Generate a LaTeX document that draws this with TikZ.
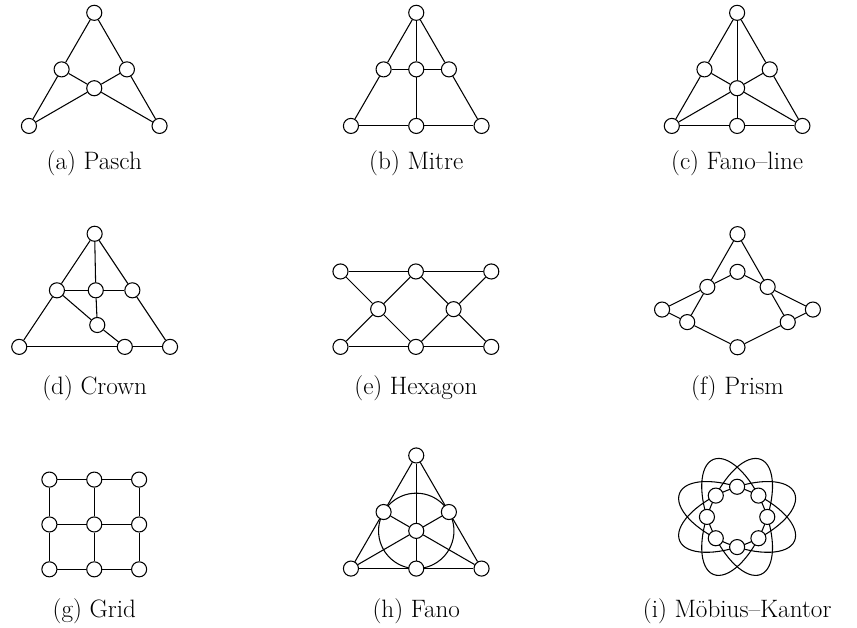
\documentclass[tikz,border=0pt]{standalone}
\usetikzlibrary{positioning}

\begin{document}
\begin{tikzpicture}[
    vtx/.style={circle, draw, fill=white, minimum size=0.4cm, inner sep=0pt, line width=0.8pt},
    edge/.style={line width=0.8pt},
    capt/.style={font=\fontsize{19}{22}\selectfont}
]
\useasboundingbox (0,0) rectangle (22.73,-16.63);

% ================= (a) PASCH =================
\begin{scope}[shift={(2.50,-3.34)}]
    \node[vtx] (aT) at (0,3) {};
    \node[vtx] (aL) at (-0.866,1.5) {};
    \node[vtx] (aR) at (0.866,1.5) {};
    \node[vtx] (aC) at (0,1) {};
    \node[vtx] (aBL) at (-1.732,0) {};
    \node[vtx] (aBR) at (1.732,0) {};

    \draw[edge] (aT) -- (aL) -- (aBL);
    \draw[edge] (aT) -- (aR) -- (aBR);
    \draw[edge] (aL) -- (aC) -- (aBR);
    \draw[edge] (aR) -- (aC) -- (aBL);

    \node[capt] (capa) at (0,-1.0) {(a) Pasch};
\end{scope}

% ================= (b) MITRE =================
\begin{scope}[shift={(11.04,-3.34)}]
    \node[vtx] (bT) at (0,3) {};
    \node[vtx] (bL) at (-0.866,1.5) {};
    \node[vtx] (bM) at (0,1.5) {};
    \node[vtx] (bR) at (0.866,1.5) {};
    \node[vtx] (bBL) at (-1.732,0) {};
    \node[vtx] (bBM) at (0,0) {};
    \node[vtx] (bBR) at (1.732,0) {};

    \draw[edge] (bT) -- (bL) -- (bBL);
    \draw[edge] (bT) -- (bR) -- (bBR);
    \draw[edge] (bT) -- (bM) -- (bBM);
    \draw[edge] (bL) -- (bM) -- (bR);
    \draw[edge] (bBL) -- (bBM) -- (bBR);

    \node[capt] (capb) at (0,-1.0) {(b) Mitre};
\end{scope}

% ================= (c) FANO-LINE =================
\begin{scope}[shift={(19.55,-3.34)}]
    \node[vtx] (cT) at (0,3) {};
    \node[vtx] (cL) at (-0.866,1.5) {};
    \node[vtx] (cR) at (0.866,1.5) {};
    \node[vtx] (cC) at (0,1) {};
    \node[vtx] (cBL) at (-1.732,0) {};
    \node[vtx] (cBM) at (0,0) {};
    \node[vtx] (cBR) at (1.732,0) {};

    \draw[edge] (cT) -- (cL) -- (cBL);
    \draw[edge] (cT) -- (cR) -- (cBR);
    \draw[edge] (cT) -- (cC) -- (cBM);
    \draw[edge] (cL) -- (cC) -- (cBR);
    \draw[edge] (cR) -- (cC) -- (cBL);
    \draw[edge] (cBL) -- (cBM) -- (cBR);

    \node[capt] (capc) at (0,-1.0) {(c) Fano–line};
\end{scope}

% ================= (d) CROWN =================
\begin{scope}[shift={(2.51,-9.20)}]
    \node[vtx] (dT) at (0,3) {};
    \node[vtx] (dL) at (-1,1.5) {};
    \node[vtx] (dM) at (0.03,1.5) {};
    \node[vtx] (dR) at (1,1.5) {};
    \node[vtx] (dK) at (0.07,0.58) {};
    \node[vtx] (dBL) at (-2,0) {};
    \node[vtx] (dBM) at (0.8,0) {};
    \node[vtx] (dBR) at (2,0) {};

    \draw[edge] (dT) -- (dL) -- (dBL);
    \draw[edge] (dT) -- (dR) -- (dBR);
    \draw[edge] (dT) -- (dM) -- (dK);
    \draw[edge] (dL) -- (dM) -- (dR);
    \draw[edge] (dL) -- (dK) -- (dBM);
    \draw[edge] (dBL) -- (dBM) -- (dBR);

    \node[capt] (capd) at (0,-1.09) {(d) Crown};
\end{scope}

% ================= (e) HEXAGON =================
\begin{scope}[shift={(11.03,-9.20)}]
    \node[vtx] (eT1) at (-2,2) {};
    \node[vtx] (eT2) at (0,2) {};
    \node[vtx] (eT3) at (2,2) {};
    \node[vtx] (eM1) at (-1,1) {};
    \node[vtx] (eM2) at (1,1) {};
    \node[vtx] (eB1) at (-2,0) {};
    \node[vtx] (eB2) at (0,0) {};
    \node[vtx] (eB3) at (2,0) {};

    \draw[edge] (eT1) -- (eT2) -- (eT3);
    \draw[edge] (eB1) -- (eB2) -- (eB3);
    \draw[edge] (eT1) -- (eM1) -- (eB2);
    \draw[edge] (eB1) -- (eM1) -- (eT2);
    \draw[edge] (eT2) -- (eM2) -- (eB3);
    \draw[edge] (eB2) -- (eM2) -- (eT3);

    \node[capt] (cape) at (0,-1.09) {(e) Hexagon};
\end{scope}

% ================= (f) PRISM =================
\begin{scope}[shift={(19.56,-9.21)}]
    \node[vtx] (fT) at (0,3) {};
    \node[vtx] (fI) at (0,2) {};
    \node[vtx] (fLU) at (-0.8,1.6) {};
    \node[vtx] (fRU) at (0.8,1.6) {};
    \node[vtx] (fFL) at (-2,1) {};
    \node[vtx] (fFR) at (2,1) {};
    \node[vtx] (fLL) at (-1.333,0.667) {};
    \node[vtx] (fRL) at (1.333,0.667) {};
    \node[vtx] (fB) at (0,0) {};

    \draw[edge] (fT) -- (fLU) -- (fLL);
    \draw[edge] (fT) -- (fRU) -- (fRL);
    \draw[edge] (fFL) -- (fLU) -- (fI) -- (fRU) -- (fFR);
    \draw[edge] (fFL) -- (fLL) -- (fB) -- (fRL) -- (fFR);

    \node[capt] (capf) at (0,-1.08) {(f) Prism};
\end{scope}

% ================= (g) GRID =================
\begin{scope}[shift={(2.50,-13.91)}]
    \foreach \r in {0,1,2}
        \foreach \c in {0,1,2}
            \node[vtx] (g\r\c) at ({1.19*(\c-1)},{1.19*(1-\r)}) {};
    \foreach \r in {0,1,2} {
        \draw[edge] (g\r0) -- (g\r1) -- (g\r2);
        \draw[edge] (g0\r) -- (g1\r) -- (g2\r);
    }

    \node[capt] (capg) at (0,-2.3) {(g) Grid};
\end{scope}

% ================= (h) FANO =================
\begin{scope}[shift={(11.04,-15.08)}]
    \draw[edge] (0,1) circle (1);
    \node[vtx] (hT) at (0,3) {};
    \node[vtx] (hL) at (-0.866,1.5) {};
    \node[vtx] (hR) at (0.866,1.5) {};
    \node[vtx] (hC) at (0,1) {};
    \node[vtx] (hBL) at (-1.732,0) {};
    \node[vtx] (hBM) at (0,0) {};
    \node[vtx] (hBR) at (1.732,0) {};

    \draw[edge] (hT) -- (hL) -- (hBL);
    \draw[edge] (hT) -- (hR) -- (hBR);
    \draw[edge] (hT) -- (hC) -- (hBM);
    \draw[edge] (hL) -- (hC) -- (hBR);
    \draw[edge] (hR) -- (hC) -- (hBL);
    \draw[edge] (hBL) -- (hBM) -- (hBR);

    \node[capt] (caph) at (0,-1.13) {(h) Fano};
\end{scope}

% ================= (i) MOEBIUS-KANTOR =================
\begin{scope}[shift={(19.55,-13.71)}]
    \foreach \k in {0,...,3}
        \draw[edge, rotate=22.5+45*\k] (0,0) ellipse (1.65 and 0.752);
    \foreach \k in {0,...,7}
        \node[vtx] (i\k) at (45*\k:0.8) {};

    \node[capt] (capi) at (0,-2.5) {(i) Möbius–Kantor};
\end{scope}

\end{tikzpicture}
\end{document}
